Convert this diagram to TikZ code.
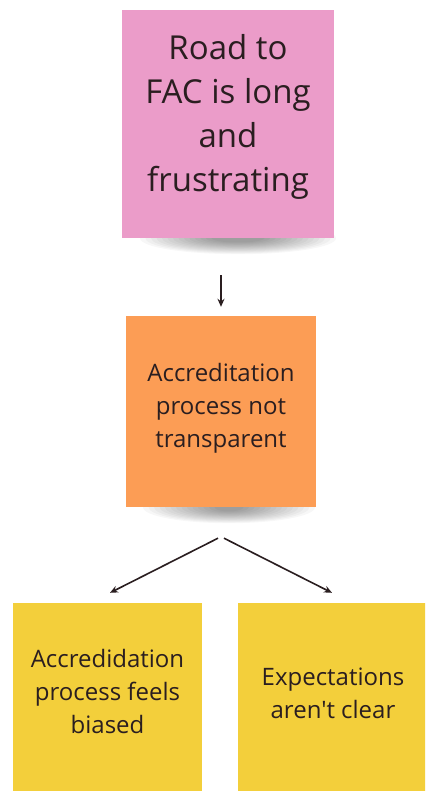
\documentclass[tikz,border=0pt]{standalone}
\usepackage{fontspec}
\setmainfont{Open Sans}
\newfontfamily\osplain{Open Sans}[Ligatures=ResetAll]
\usetikzlibrary{arrows.meta,calc}
\pgfdeclarelayer{background}
\pgfdeclarelayer{paper}
\pgfsetlayers{paper,background,main}
\definecolor{pinknote}{HTML}{EB9CC9}
\definecolor{orangenote}{HTML}{FC9D55}
\definecolor{yellownote}{HTML}{F3CF3B}
\definecolor{inkc}{HTML}{2A1E20}
\begin{document}
\begin{tikzpicture}[x=1pt,y=-1pt,
  note/.style={rectangle, inner sep=0pt, draw=none},
  bigtext/.style={align=center, text=inkc, inner sep=0pt, font=\fontsize{33}{44}\selectfont},
  smalltext/.style={align=center, text=inkc, inner sep=0pt, font=\fontsize{24}{33}\selectfont},
  arr/.style={-{Stealth[length=8pt,width=7pt]}, line width=1.6pt, draw=inkc}]
\useasboundingbox (0,0) rectangle (425,791);
\clip (0,0) rectangle (425,791);
\begin{pgfonlayer}{paper}
\fill[white] (0,0) rectangle (425,791);
\end{pgfonlayer}

% notes
\node[note, fill=pinknote, minimum width=212pt, minimum height=228pt] (p) at (228,124) {};
\node[note, fill=orangenote, minimum width=190pt, minimum height=191pt] (o) at (221,411.5) {};
\node[note, fill=yellownote, minimum width=189pt, minimum height=190pt] (y1) at (107.5,698) {};
\node[note, fill=yellownote, minimum width=190pt, minimum height=190pt] (y2) at (333,698) {};

% texts
\node[bigtext] (pt) at (228,116.5) {Road to\\FAC is long\\and\\frustrating};
\node[smalltext] (ot) at (221,408) {Accreditation\\process not\\transparent};
\node[smalltext] (y1t) at (107.5,691) {Accredidation\\process feels\\biased};
\node[smalltext] (y2t) at (333,693) {Expectations\\{\osplain aren't} clear};

% shadows
\begin{pgfonlayer}{background}
\foreach \n/\w/\dx in {p/98/10, o/86/8} {
  \foreach \i in {0,...,13} {
    \fill[black,opacity=0.03] ([xshift=\dx pt]\n.south) ellipse [x radius={(\w-\i*5.5)*1pt}, y radius={(16-\i*0.9)*1pt}];
  }
}
\end{pgfonlayer}

% connectors
\coordinate (a1) at ([xshift=-3pt,yshift=-31pt]o.south);
\coordinate (a2) at ([xshift=3pt,yshift=-31pt]o.south);
\coordinate (e1) at ([xshift=2.5pt,yshift=10pt]y1.north);
\coordinate (e2) at ([xshift=-1pt,yshift=10pt]y2.north);
\draw[arr, shorten <=37pt, shorten >=9pt] (o.north |- p.south) -- (o.north);
\draw[arr] (a1) -- (e1);
\draw[arr] (a2) -- (e2);
\end{tikzpicture}
\end{document}
